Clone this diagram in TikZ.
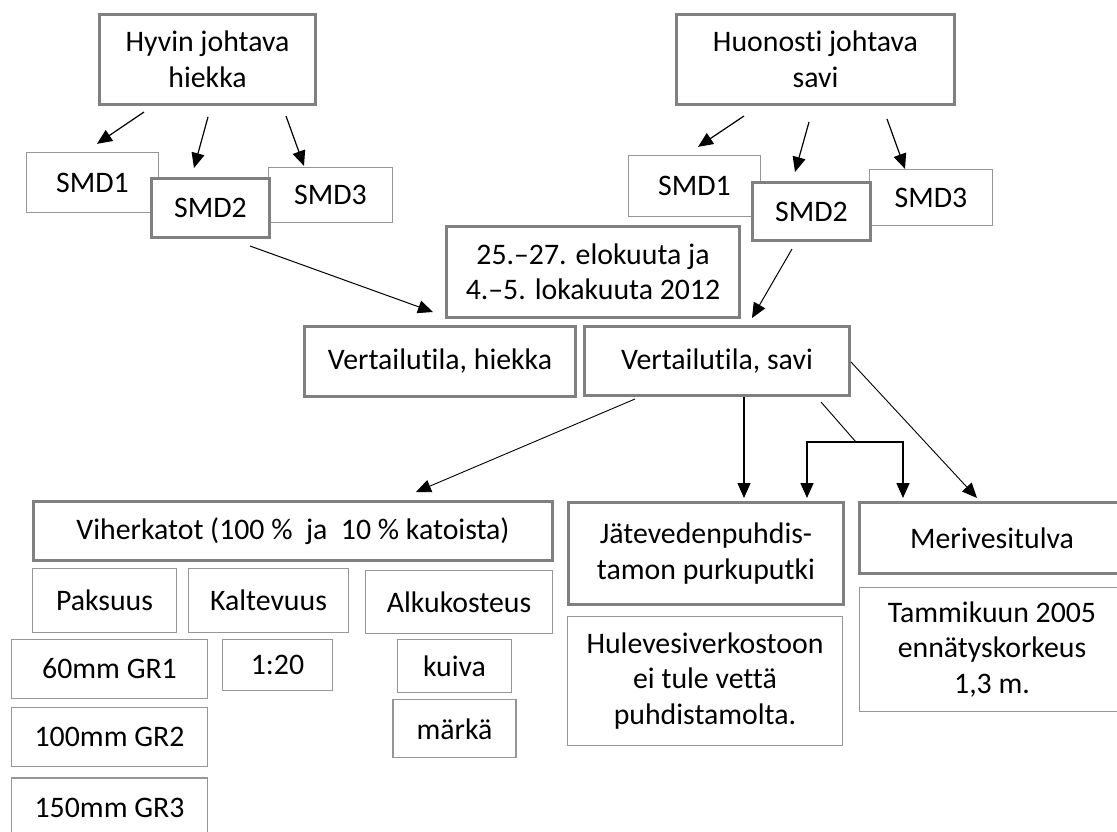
\documentclass[tikz,border=0pt]{standalone}
\usepackage{fontspec}
\setmainfont{Carlito}[Ligatures={TeX,NoCommon}]
\usepackage{tikz}
\usetikzlibrary{arrows.meta,positioning,calc}

\definecolor{boxgray}{RGB}{128,128,128}
\definecolor{linegray}{RGB}{150,150,150}

\begin{document}
\begin{tikzpicture}[x=1pt, y=-1pt,
    main box/.style={draw=boxgray, line width=3pt, fill=white, inner sep=0pt, align=center, font=\fontsize{29.8pt}{35.5pt}\selectfont},
    sub box/.style={main box, draw=linegray, line width=1.3pt},
    >={Triangle[length=15pt,width=13pt]}, line width=1.2pt]
    \clip (0,0) rectangle (1117,831);

    \node[main box, minimum width=216pt, minimum height=90pt] (hyvin) at (207.5,59.5) {Hyvin johtava\\hiekka};
    \node[main box, minimum width=278pt, minimum height=90pt] (huono) at (815.5,59.5) {Huonosti johtava\\savi};

    % SMD boxes, SMD2 on top
    \node[sub box, minimum width=132pt, minimum height=60pt] (lsmd1) at (92.5,182.5) {SMD1};
    \node[sub box, minimum width=124pt, minimum height=55pt] (lsmd3) at (330.5,195) {SMD3};
    \node[main box, minimum width=118pt, minimum height=59pt] (lsmd2) at (210.5,208) {SMD2};
    \node[sub box, minimum width=132pt, minimum height=61pt] (rsmd1) at (694.5,186) {SMD1};
    \node[sub box, minimum width=123pt, minimum height=56pt] (rsmd3) at (931,197.5) {SMD3};
    \node[main box, minimum width=118pt, minimum height=58pt] (rsmd2) at (811.5,211.5) {SMD2};

    \node[main box, minimum width=293pt, minimum height=91pt] (aika) at (593,272) {25.–27. elokuuta ja\\4.–5. lokakuuta 2012};
    \node[main box, minimum width=271pt, minimum height=70pt] (vhiekka) at (440,361.5) {Vertailutila, hiekka};
    \node[main box, minimum width=265pt, minimum height=69pt] (vsavi) at (717,361) {Vertailutila, savi};

    \node[main box, minimum width=519pt, minimum height=59pt] (viher) at (293,531) {Viherkatot (100 \%\ \ ja\ \ 10 \% katoista)};
    \node[main box, minimum width=275pt, minimum height=102pt] (jate) at (706,553.5) {Jätevedenpuhdis-\\tamon purkuputki};
    \node[main box, minimum width=265pt, minimum height=71pt] (meri) at (992,538) {Merivesitulva};

    \node[sub box, minimum width=144pt, minimum height=64pt] (paksuus) at (104.5,600.5) {Paksuus};
    \node[sub box, minimum width=160pt, minimum height=64pt] (kaltevuus) at (268.5,600.5) {Kaltevuus};
    \node[sub box, minimum width=187pt, minimum height=63pt] (alkukosteus) at (459,602) {Alkukosteus};
    \node[sub box, minimum width=196pt, minimum height=59pt] (gr1) at (109.5,669) {60mm GR1};
    \node[sub box, minimum width=196pt, minimum height=59pt, below=8pt of gr1] (gr2) {100mm GR2};
    \node[sub box, minimum width=196pt, minimum height=59pt, below=10pt of gr2] (gr3) {150mm GR3};
    \node[sub box, minimum width=110pt, minimum height=51pt] (suhde) at (277.5,665) {1:20};
    \node[sub box, minimum width=114pt, minimum height=53pt] (kuiva) at (454.5,666) {kuiva};
    \node[sub box, minimum width=123pt, minimum height=58pt, below=6pt of kuiva] (marka) {märkä};
    \node[sub box, minimum width=275pt, minimum height=129pt] (hule) at (705,681) {Hulevesiverkostoon\\ei tule vettä\\puhdistamolta.};
    \node[sub box, minimum width=265pt, minimum height=124pt] (tammi) at (992,649.5) {Tammikuun 2005\\ennätyskorkeus\\1,3 m.};

    \draw[->] ([xshift=-63.5pt,yshift=-6pt]hyvin.south) -- ([xshift=4.5pt,yshift=8pt]lsmd1.north);
    \draw[->] ([xshift=0.5pt,yshift=-11pt]hyvin.south) -- ([xshift=-16.5pt,yshift=9pt]lsmd2.north);
    \draw[->] ([xshift=78.5pt,yshift=-10pt]hyvin.south) -- ([xshift=-26.5pt,yshift=1pt]lsmd3.north);
    \draw[->] ([xshift=-71.5pt,yshift=-10pt]huono.south) -- ([xshift=3.5pt,yshift=8pt]rsmd1.north);
    \draw[->] ([xshift=-6.5pt,yshift=-16pt]huono.south) -- ([xshift=-16.5pt,yshift=9pt]rsmd2.north);
    \draw[->] ([xshift=71.5pt,yshift=-13pt]huono.south) -- ([xshift=-26pt]rsmd3.north);

    \draw[->, line width=1pt] ([xshift=39.5pt,yshift=-7pt]lsmd2.south) -- ([xshift=-7pt,yshift=13pt]vhiekka.north);
    \draw[->, line width=1pt] ([xshift=-19.5pt,yshift=-7pt]rsmd2.south) -- ([xshift=35pt,yshift=7pt]vsavi.north);

    \draw[->, line width=0.9pt] ([xshift=-82pt,yshift=-2pt]vsavi.south) -- ([xshift=123pt,yshift=8pt]viher.north);
    \draw[->] ([xshift=27pt]vsavi.south) -- ([xshift=38pt,yshift=3pt]jate.north);
    \draw[->, line width=0.9pt] ([yshift=-1pt]vsavi.east) -- ([xshift=-15pt,yshift=3pt]meri.north);

    % split to both targets
    \coordinate (fork) at (856,442);
    \draw[line width=0.9pt] ([xshift=104pt,yshift=-5pt]vsavi.south) -- (fork);
    \draw[->, line width=1.6pt] (fork) -| ([xshift=101pt,yshift=3pt]jate.north);
    \draw[->, line width=1.6pt] (fork) -| ([xshift=-89pt,yshift=3pt]meri.north);
\end{tikzpicture}
\end{document}
